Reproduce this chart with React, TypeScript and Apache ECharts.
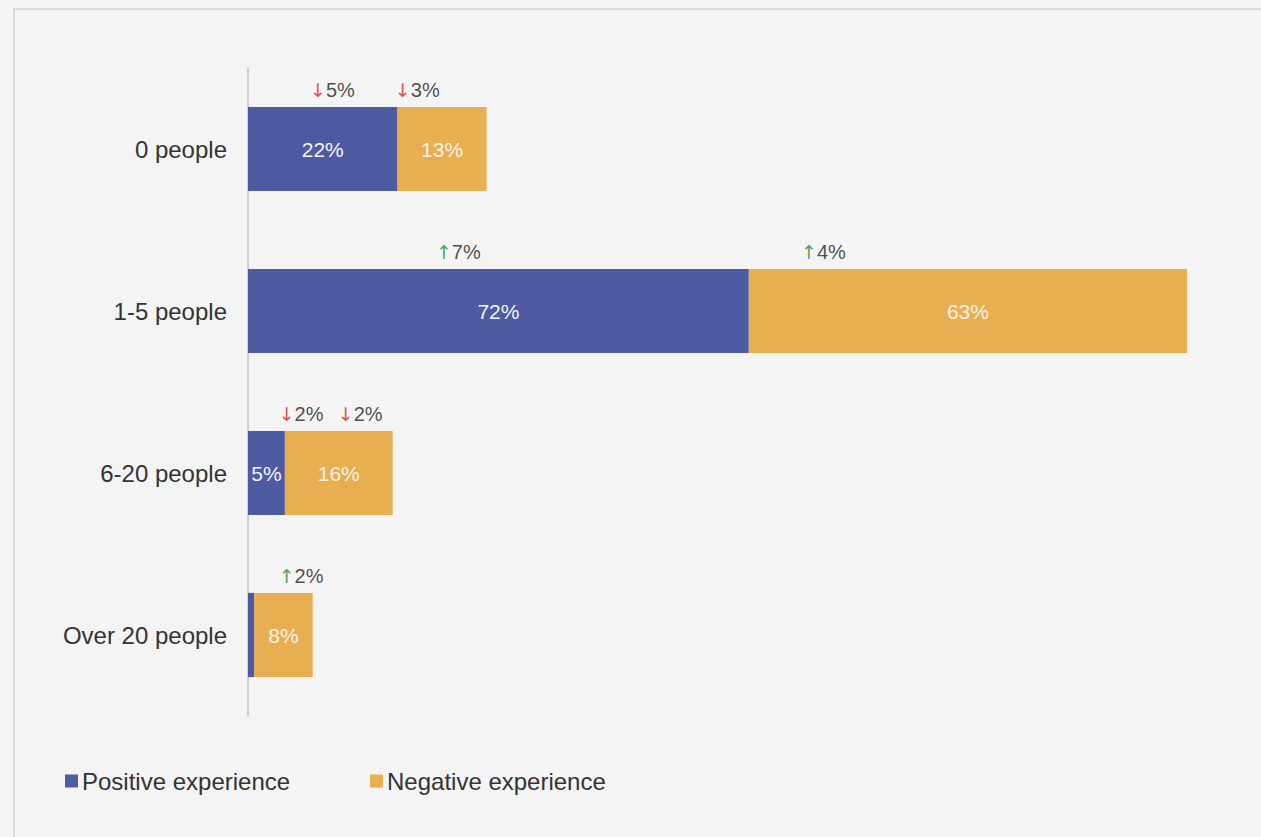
import React, { useEffect, useRef } from "react";
import * as echarts from "echarts";

const categories = ["0 people", "1-5 people", "6-20 people", "Over 20 people"];
const positiveValues = [21.5, 72, 5.3, 0.9];
const negativeValues = [12.8, 63, 15.5, 8.4];
const positiveLabels = ["22%", "72%", "5%", ""];
const negativeLabels = ["13%", "63%", "16%", "8%"];
// change annotations: [x position (in %), category index, direction, text]
const changeX = [9.2, 21.4, 27.3, 79.8, 4.7, 13.2, 4.7];
const changeCat = [0, 0, 1, 1, 2, 2, 3];
const changeDir = ["down", "down", "up", "up", "down", "down", "up"];
const changeText = ["5%", "3%", "7%", "4%", "2%", "2%", "2%"];

const BLUE = "#4e5ba0";
const ORANGE = "#e8ae52";
const FONT = "'Liberation Sans', Arial, Helvetica, sans-serif";

export default function App() {
  const ref = useRef<HTMLDivElement>(null);
  useEffect(() => {
    if (!ref.current) return;
    const chart = echarts.init(ref.current, null, { renderer: "svg" });
    const changeData = changeX.map((x, i) => ({
      value: [x, categories[changeCat[i]]],
      label: {
        formatter: (changeDir[i] === "up" ? "{up|↑}" : "{dn|↓}") + "{t|" + changeText[i] + "}",
      },
    }));
    chart.setOption({
      animation: false,
      backgroundColor: "#f4f4f4",
      textStyle: { fontFamily: FONT },
      graphic: [
        {
          type: "rect",
          shape: { x: 14, y: 9, width: 1400, height: 1000 },
          style: { fill: "none", stroke: "#dcdcdc", lineWidth: 2 },
          silent: true,
        },
      ],
      grid: { left: 248, right: 74, top: 68, bottom: 121 },
      xAxis: {
        type: "value",
        min: 0,
        max: 135,
        show: false,
      },
      yAxis: {
        type: "category",
        data: categories,
        inverse: true,
        axisLine: { show: true, lineStyle: { color: "#cfcfcf", width: 2 } },
        axisTick: { show: false },
        axisLabel: { fontSize: 24, color: "#333", margin: 21, fontFamily: FONT },
      },
      legend: [
        {
          left: 60,
          top: 764,
          itemWidth: 13,
          itemHeight: 13,
          itemGap: 4,
          icon: "rect",
          data: ["Positive experience"],
          textStyle: { fontSize: 24, color: "#333", fontFamily: FONT, padding: [0, 0, 0, -1] },
        },
        {
          left: 365,
          top: 764,
          itemWidth: 13,
          itemHeight: 13,
          icon: "rect",
          data: ["Negative experience"],
          textStyle: { fontSize: 24, color: "#333", fontFamily: FONT, padding: [0, 0, 0, -1] },
        },
      ],
      series: [
        {
          name: "Positive experience",
          type: "bar",
          stack: "total",
          barWidth: "52%",
          itemStyle: { color: BLUE },
          data: positiveValues,
          label: {
            show: true,
            position: "inside",
            color: "#f4f4f4",
            fontSize: 21,
            fontFamily: FONT,
            formatter: (p: any) => positiveLabels[p.dataIndex],
          },
        },
        {
          name: "Negative experience",
          type: "bar",
          stack: "total",
          barWidth: "52%",
          itemStyle: { color: ORANGE },
          data: negativeValues,
          label: {
            show: true,
            position: "inside",
            color: "#f7f2e8",
            fontSize: 21,
            fontFamily: FONT,
            formatter: (p: any) => negativeLabels[p.dataIndex],
          },
        },
        {
          name: "changes",
          type: "scatter",
          symbolSize: 0,
          silent: true,
          data: changeData,
          label: {
            show: true,
            position: "right",
            distance: 0,
            offset: [-2, -59],
            rich: {
              up: { color: "#2a8a3a", fontSize: 19, fontFamily: "'DejaVu Sans', sans-serif" },
              dn: { color: "#d42a2a", fontSize: 19, fontFamily: "'DejaVu Sans', sans-serif" },
              t: { color: "#222", fontSize: 20, fontFamily: FONT },
            },
          },
        },
      ],
    });
    return () => chart.dispose();
  }, []);
  return (
    <div
      ref={ref}
      style={{ position: "fixed", left: 0, top: 0, width: 1261, height: 837 }}
    />
  );
}
